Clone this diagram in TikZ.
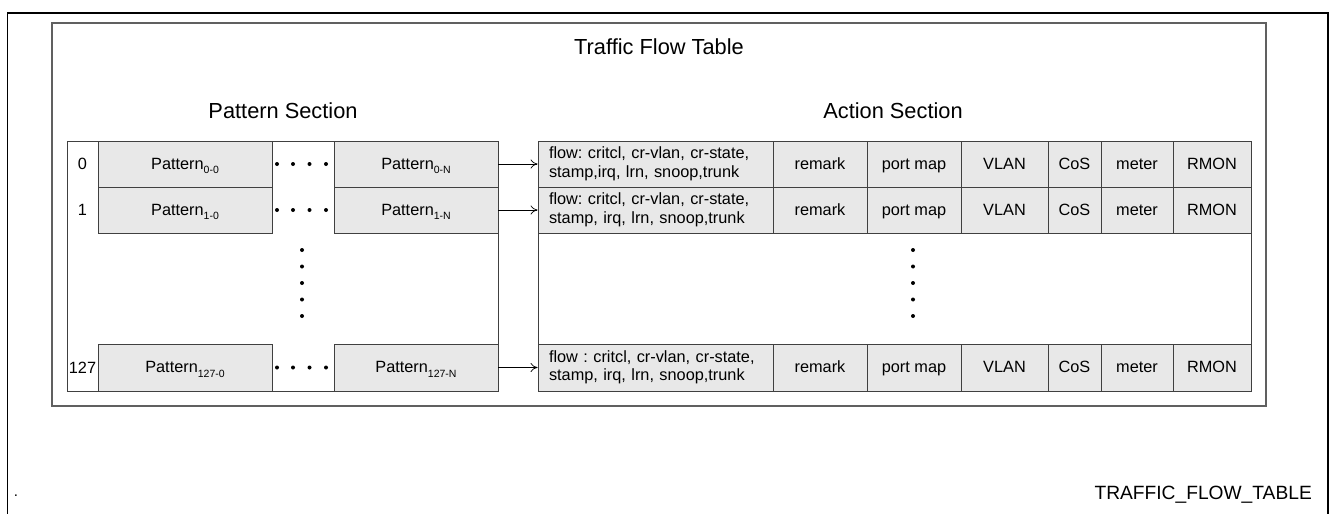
\documentclass[tikz,border=0pt]{standalone}
\usepackage{fontspec}
\setmainfont{Liberation Sans}
\usepackage{xcolor}
\usepackage{tikz}
\usetikzlibrary{arrows.meta,positioning,calc}
\definecolor{cellfill}{HTML}{E8E8E8}
\definecolor{cellline}{HTML}{404040}
\newcommand{\subidx}[1]{\raisebox{-0.5ex}{\fontsize{10.5}{10.5}\selectfont #1}}
\frenchspacing

\begin{document}
\begin{tikzpicture}[x=1pt, y=-1pt,
  cell/.style={draw=cellline, line width=0.9pt, fill=cellfill, minimum height=46pt, inner sep=0pt, text height=1.15em, text depth=0.1em, font=\fontsize{16.3}{18.5}\selectfont},
  flowcell/.style={cell, text height=, text depth=, align=left, text width=213pt, minimum width=235pt},
  idx/.style={font=\fontsize{16.3}{18.5}\selectfont, inner sep=0pt},
  head/.style={font=\fontsize{21.8}{24}\selectfont, inner sep=0pt},
  frame/.style={draw=cellline, line width=0.9pt},
  arr/.style={-{To[length=7pt,width=9pt]}, line width=0.7pt, black}]
\useasboundingbox (0,0) rectangle (1331,514);
% page and picture frames
\draw[line width=1.1pt] (7.5,514) -- (7.5,13) -- (1328,13) -- (1328,514);
\draw[gray!75!black, line width=1.6pt] (52,23) rectangle (1266,406);
\node[head] (title) at (659,47) {Traffic Flow Table};
\node[head] (psec) at (283,111) {Pattern Section};
\node[head] (asec) at (893,111) {Action Section};
% section outlines
\draw[frame] (67,141) rectangle (498,391);
\draw[frame] (538,141) rectangle (1251,391);
% pattern section
\node[idx] (i0) at (82.5,164) {0};
\node[cell, minimum width=174pt] (p0a) at (185,164) {Pattern\subidx{0-0}};
\node[cell, minimum width=164pt] (p0n) at (416,164) {Pattern\subidx{0-N}};
\node[idx] (i1) at (82.5,210) {1};
\node[cell, minimum width=174pt] (p1a) at (185,210) {Pattern\subidx{1-0}};
\node[cell, minimum width=164pt] (p1n) at (416,210) {Pattern\subidx{1-N}};
\node[idx] (i127) at (82.5,367.5) {127};
\node[cell, minimum width=174pt, minimum height=47pt] (p127a) at (185,367.5) {Pattern\subidx{127-0}};
\node[cell, minimum width=164pt, minimum height=47pt] (p127n) at (416,367.5) {Pattern\subidx{127-N}};
% action section
\node[flowcell] (f0) at (655.5,164) {flow: critcl, cr-vlan, cr-state,\\stamp,irq, lrn, snoop,trunk};
\node[cell, minimum width=94pt] (rm0) at (820,164) {remark};
\node[cell, minimum width=94pt] (pm0) at (914,164) {port map};
\node[cell, minimum width=87pt] (vl0) at (1004.5,164) {VLAN};
\node[cell, minimum width=53pt] (cs0) at (1074.5,164) {CoS};
\node[cell, minimum width=72pt] (mt0) at (1137,164) {meter};
\node[cell, minimum width=78pt] (rn0) at (1212,164) {RMON};
\node[flowcell] (f1) at (655.5,210) {flow: critcl, cr-vlan, cr-state,\\stamp, irq, lrn, snoop,trunk};
\node[cell, minimum width=94pt] (rm1) at (820,210) {remark};
\node[cell, minimum width=94pt] (pm1) at (914,210) {port map};
\node[cell, minimum width=87pt] (vl1) at (1004.5,210) {VLAN};
\node[cell, minimum width=53pt] (cs1) at (1074.5,210) {CoS};
\node[cell, minimum width=72pt] (mt1) at (1137,210) {meter};
\node[cell, minimum width=78pt] (rn1) at (1212,210) {RMON};
\node[flowcell, minimum height=47pt] (f127) at (655.5,367.5) {flow : critcl, cr-vlan, cr-state,\\stamp, irq, lrn, snoop,trunk};
\node[cell, minimum width=94pt, minimum height=47pt] (rm127) at (820,367.5) {remark};
\node[cell, minimum width=94pt, minimum height=47pt] (pm127) at (914,367.5) {port map};
\node[cell, minimum width=87pt, minimum height=47pt] (vl127) at (1004.5,367.5) {VLAN};
\node[cell, minimum width=53pt, minimum height=47pt] (cs127) at (1074.5,367.5) {CoS};
\node[cell, minimum width=72pt, minimum height=47pt] (mt127) at (1137,367.5) {meter};
\node[cell, minimum width=78pt, minimum height=47pt] (rn127) at (1212,367.5) {RMON};
% ellipsis dots
\foreach \y in {164,210,367.5}
  \foreach \x in {277,293,309.5,326}
    \fill (\x,\y) circle (2pt);
\foreach \y in {250,266.5,283,299.5,316} {
  \fill (302,\y) circle (2pt);
  \fill (913,\y) circle (2pt);
}
% links
\draw[arr] (p0n) -- (f0);
\draw[arr] (p1n) -- (f1);
\draw[arr] (p127n) -- (f127);
\node[font=\fontsize{15}{18}\selectfont, inner sep=0pt] (dot) at (16,496) {.};
\node[font=\fontsize{19.2}{22}\selectfont, inner sep=0pt, anchor=east] (tag) at (1312,495) {TRAFFIC\_FLOW\_TABLE};
\end{tikzpicture}
\end{document}
